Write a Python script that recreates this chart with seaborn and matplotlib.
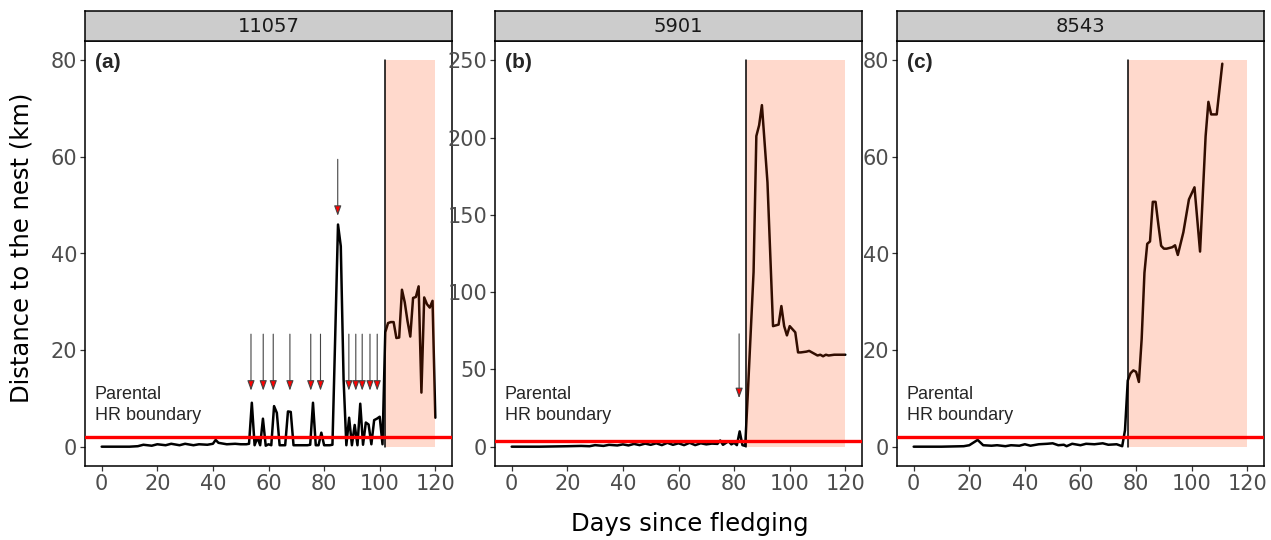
import numpy as np
import pandas as pd
import matplotlib
matplotlib.use("Agg")
import matplotlib.pyplot as plt
import seaborn as sns

# 個体ごとの巣からの距離（日ごと）
ids = ["11057", "5901", "8543"]
panel_tags = ["(a)", "(b)", "(c)"]

days_a = [0, 10, 13, 15, 18, 20, 23, 25, 28, 30, 33, 35, 38, 40, 41, 42, 45, 48, 50, 52, 53,
          54, 55, 56, 57, 58, 59, 60, 61, 62, 63, 64, 66, 67, 68, 69, 70, 72, 74, 75, 76, 77,
          78, 79, 80, 81, 82, 83, 84, 85, 86, 87, 88, 89, 90, 91, 92, 93, 94, 95, 96, 97, 98,
          99, 100, 101, 102, 103, 104, 105, 106, 107, 108, 109, 110, 111, 112, 113, 114, 115,
          116, 117, 118, 119, 120]
dist_a = [0, 0, 0.1, 0.4, 0.2, 0.5, 0.3, 0.6, 0.3, 0.6, 0.3, 0.5, 0.4, 0.6, 1.4, 0.8, 0.5, 0.6, 0.5, 0.5, 0.6,
          9.1, 0.3, 1.9, 0.3, 5.8, 0.2, 0.5, 0.3, 8.4, 7.0, 0.3, 0.3, 7.3, 7.2, 0.3, 0.3, 0.3, 0.3, 0.4, 9.1, 0.3,
          0.3, 2.9, 0.3, 0.3, 0.3, 0.4, 23, 46, 41.5, 14, 0.3, 6.0, 0.3, 4.5, 0.3, 8.9, 0.4, 5.0, 4.6, 0.5, 5.5,
          5.8, 6.2, 0.5, 23.7, 25.6, 25.8, 25.8, 22.5, 22.6, 32.5, 29.9, 26.0, 22.8, 30.8, 31.0, 33.2, 11.2,
          30.9, 29.5, 28.8, 30.2, 6.0]

days_b = [0, 10, 20, 25, 28, 30, 33, 35, 38, 40, 42, 44, 46, 48, 50, 52, 54, 56, 58, 60, 62, 64, 66, 68,
          70, 72, 74, 75, 76, 78, 79, 80, 81, 82, 83, 84, 85, 86, 87, 88, 89, 90, 92, 94, 96, 97, 98, 99,
          100, 101, 102, 103, 104, 106, 107, 108, 109, 110, 111, 112, 113, 114, 116, 118, 120]
dist_b = [0, 0, 0.3, 0.5, 0.3, 1.0, 0.5, 1.2, 0.8, 1.5, 0.8, 1.8, 1.0, 2.0, 1.2, 2.2, 1.0, 2.5, 1.2, 2.2,
          1.0, 2.5, 1.0, 2.2, 1.5, 2.0, 1.8, 4.0, 1.2, 3.5, 1.5, 2.5, 1.0, 9.9, 1.0, 0.5, 37, 75, 113, 201,
          208, 221, 171, 78, 79, 91, 78, 72, 78, 76, 74, 61, 61, 61.5, 62, 61, 60, 59, 59.5, 58.5, 59.5,
          59, 59.5, 59.5, 59.5]

days_c = [0, 10, 18, 20, 23, 25, 28, 30, 33, 35, 38, 40, 42, 45, 48, 50, 52, 54, 55, 57, 60, 62, 65, 68,
          70, 73, 75, 76, 77, 78, 79, 80, 81, 82, 83, 84, 85, 86, 87, 88, 89, 90, 91, 93, 94, 95, 97, 99,
          101, 103, 105, 106, 107, 109, 111]
dist_c = [0, 0, 0.1, 0.3, 1.4, 0.3, 0.2, 0.3, 0.1, 0.3, 0.2, 0.5, 0.2, 0.5, 0.6, 0.7, 0.3, 0.4, 0.1, 0.6,
          0.3, 0.6, 0.5, 0.7, 0.4, 0.5, 0.1, 3.4, 13.7, 15.2, 15.8, 15.5, 13.4, 22.3, 36, 42, 42.5, 50.7,
          50.7, 46, 41.6, 41.0, 41.0, 41.3, 41.7, 39.7, 44.4, 51.2, 53.7, 40.4, 64.3, 71.4, 68.8, 68.8, 79.3]

# 親の行動圏境界（km）、分散開始日、y軸上限
hr_boundary = [2.0, 3.8, 2.0]
dispersal_start = [102, 84.3, 77.1]
dispersal_end = [120, 120, 120]
y_top = [80, 250, 80]
y_ticks = [np.arange(0, 81, 20), np.arange(0, 251, 50), np.arange(0, 81, 20)]

# 矢印（x位置、始点y、終点y）
arrows_a_x = [53.7, 58.1, 61.7, 67.7, 75.2, 78.7, 88.9, 91.4, 93.7, 96.5, 99.1]
arrows_a_y = (23.3, 11.6)
big_arrow_a = (84.9, 59.5, 47.8)
arrows_b = [(81.8, 73, 31.4)]

sns.set_theme(style="ticks")
plt.rcParams['font.family'] = ['DejaVu Sans']

data = [(days_a, dist_a), (days_b, dist_b), (days_c, dist_c)]
lefts = [85, 495, 897]
W, H = 1271, 540

fig = plt.figure(figsize=(12.71, 5.40), dpi=100)

for i in range(3):
    x0 = lefts[i]
    ax = fig.add_axes([x0 / W, 1 - 466 / H, 367 / W, 425 / H])
    df = pd.DataFrame({"day": data[i][0], "dist": data[i][1]})
    sns.lineplot(data=df, x="day", y="dist", ax=ax, color="black", lw=1.8, zorder=2)

    top = y_top[i]
    ax.fill_between([dispersal_start[i], dispersal_end[i]], 0, top,
                    color="orangered", alpha=0.2, lw=0, zorder=3)
    ax.plot([dispersal_start[i]] * 2, [0, top], color="black", lw=1.1, zorder=4)
    ax.axhline(hr_boundary[i], color="#FF0000", lw=2.4, zorder=5)

    ax.set_xlim(-6, 126)
    ax.set_ylim(-0.05 * top, 1.05 * top)
    ax.set_xticks(np.arange(0, 121, 20))
    ax.set_yticks(y_ticks[i])
    ax.set_xlabel("")
    ax.set_ylabel("")
    ax.tick_params(length=3.5, width=0.9, color="#333333", labelcolor="#4D4D4D",
                   labelsize=15, pad=2)
    for s in ax.spines.values():
        s.set_visible(True)
        s.set_color("black")
        s.set_linewidth(1.1)

    ax.text(0.027, 0.95, panel_tags[i], transform=ax.transAxes, fontsize=15,
            fontweight="bold", family=["Liberation Sans"], va="center", ha="left")
    ax.text(0.027, 0.1435, "Parental\nHR boundary", transform=ax.transAxes, fontsize=13,
            family=["Liberation Sans"], va="center", ha="left", linespacing=1.3, zorder=6)

    arr = dict(arrowstyle="-|>,head_length=0.5,head_width=0.18", fc="red", ec="#444444",
               lw=0.8, shrinkA=0, shrinkB=0)
    if i == 0:
        for ax_x in arrows_a_x:
            ax.annotate("", xy=(ax_x, arrows_a_y[1]), xytext=(ax_x, arrows_a_y[0]),
                        arrowprops=arr, zorder=6)
        bx, by0, by1 = big_arrow_a
        ax.annotate("", xy=(bx, by1), xytext=(bx, by0), arrowprops=arr, zorder=6)
    if i == 1:
        for bx, by0, by1 in arrows_b:
            ax.annotate("", xy=(bx, by1), xytext=(bx, by0), arrowprops=arr, zorder=6)

    # ファセットのストリップ
    sax = fig.add_axes([x0 / W, 1 - 41 / H, 367 / W, 30 / H])
    sax.set_facecolor("#CCCCCC")
    sax.set_xticks([])
    sax.set_yticks([])
    for s in sax.spines.values():
        s.set_visible(True)
        s.set_color("black")
        s.set_linewidth(1.1)
    sax.text(0.5, 0.5, ids[i], transform=sax.transAxes, ha="center", va="center",
             fontsize=14, color="#1A1A1A")

fig.text(0.017, 0.5417, "Distance to the nest (km)", rotation=90, ha="center", va="center",
         fontsize=17.5, color="black")
fig.text(0.5425, 0.0296, "Days since fledging", ha="center", va="center", fontsize=17.5,
         color="black")

plt.savefig("out.png", dpi=100)
